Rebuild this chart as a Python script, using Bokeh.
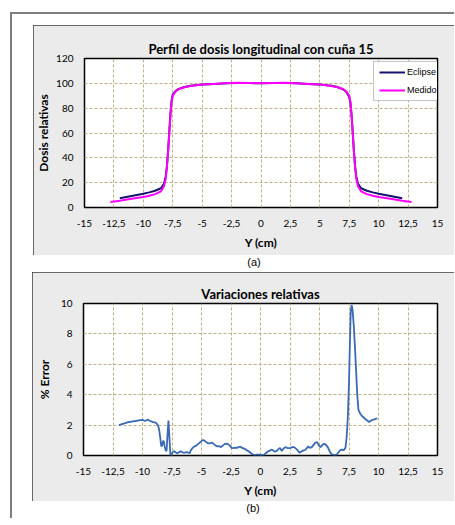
from bokeh.plotting import figure
from bokeh.models import Range1d, FixedTicker, Legend, LegendItem, Div
from bokeh.layouts import column
from bokeh.embed import file_html
from bokeh.resources import INLINE

# ---- axis ticks -----------------------------------------------------------
x_ticks = [-15, -12.5, -10, -7.5, -5, -2.5, 0, 2.5, 5, 7.5, 10, 12.5, 15]
x_tick_labels = ["-15", "-12,5", "-10", "-7,5", "-5", "-2,5", "0",
                 "2,5", "5", "7,5", "10", "12,5", "15"]
dose_ticks = [0, 20, 40, 60, 80, 100, 120]
err_ticks = [0, 2, 4, 6, 8, 10]

# ---- longitudinal dose profile, wedge 15 -----------------------------------
eclipse_x = [-12, -11, -10, -9.5, -9, -8.5, -8.25, -8.1, -8.0, -7.9, -7.8, -7.7,
             -7.6, -7.5, -7.25, -7, -6.5, -6, -5, -4, -3, -2, -1, 0, 1, 2, 3,
             4, 5, 6, 6.5, 7, 7.25, 7.5, 7.6, 7.7, 7.8, 7.9, 8.0, 8.1, 8.25,
             8.5, 9, 9.5, 10, 11, 12]
eclipse_y = [7.5, 9.3, 11, 12.2, 13.5, 15.5, 19, 25, 33, 45, 60, 75,
             86, 91, 94, 95.5, 97, 98, 99, 99.5, 100, 100.3, 100.2, 100, 100.2, 100.3, 100,
             99.5, 99, 98, 97, 95, 93, 89, 84, 74, 60, 45, 33, 25, 19,
             15.5, 13.5, 12.2, 11, 9.3, 7.5]

medido_x = [-12.8, -12, -11, -10, -9.5, -9, -8.5, -8.25, -8.1, -8.0, -7.9, -7.8,
            -7.7, -7.6, -7.5, -7.25, -7, -6.5, -6, -5, -4, -3, -2, -1, 0, 1, 2,
            3, 4, 5, 6, 6.5, 7, 7.25, 7.5, 7.6, 7.7, 7.8, 7.9, 8.0, 8.1, 8.25,
            8.5, 9, 9.5, 10, 11, 12, 12.8]
medido_y = [4.5, 5.5, 7, 8.5, 9.5, 10.8, 13, 17, 23, 32, 44, 59,
            74, 85, 90, 93.5, 95.2, 96.8, 97.8, 99, 99.5, 100, 100.4, 100.3, 100, 100.3, 100.4,
            100, 99.5, 99, 97.8, 96.8, 95.2, 93.5, 90, 85, 74, 59, 44, 32, 23, 17,
            13, 10.8, 9.5, 8.5, 7, 5.5, 4.5]

# ---- relative variation (% error) -----------------------------------------
err_x = [-12.0, -11.8, -11.6, -11.4, -11.2, -11.0, -10.8, -10.6, -10.4, -10.2, -10.0,
         -9.85, -9.7, -9.55, -9.4, -9.25, -9.1, -8.95, -8.8, -8.7, -8.6, -8.5, -8.42,
         -8.35, -8.27, -8.2, -8.12, -8.04, -7.96, -7.88, -7.8, -7.72, -7.64, -7.56,
         -7.45, -7.35, -7.2, -7.05, -6.9, -6.75, -6.6, -6.45, -6.3, -6.15, -6.0, -5.9,
         -5.75, -5.6, -5.45, -5.3, -5.15, -5.0, -4.85, -4.7, -4.55, -4.4, -4.25, -4.1,
         -3.95, -3.8, -3.65, -3.5, -3.35, -3.2, -3.05, -2.9, -2.75, -2.6, -2.45, -2.3,
         -2.15, -2.0, -1.85, -1.7, -1.55, -1.4, -1.25, -1.1, -0.95, -0.8, -0.65, -0.5,
         -0.35, -0.2, 0.0, 0.15, 0.3, 0.45, 0.6, 0.75, 0.9, 1.05, 1.2, 1.35, 1.5, 1.65,
         1.8, 1.95, 2.1, 2.25, 2.4, 2.55, 2.7, 2.85, 3.0, 3.15, 3.3, 3.45, 3.6, 3.75,
         3.9, 4.05, 4.2, 4.35, 4.5, 4.65, 4.8, 4.95, 5.1, 5.25, 5.4, 5.55, 5.7, 5.85,
         6.0, 6.15, 6.3, 6.45, 6.6, 6.75, 6.9, 7.05, 7.2, 7.3, 7.4, 7.5, 7.58, 7.65,
         7.72, 7.8, 7.9, 8.0, 8.1, 8.2, 8.3, 8.45, 8.6, 8.75, 8.9, 9.05, 9.2, 9.35,
         9.5, 9.65, 9.8, 9.9]
err_y = [2.0, 2.05, 2.1, 2.15, 2.2, 2.22, 2.25, 2.27, 2.3, 2.33, 2.35,
         2.28, 2.3, 2.36, 2.28, 2.25, 2.2, 2.18, 2.1, 2.0, 1.75, 1.2, 0.65,
         0.6, 0.95, 0.95, 0.6, 0.35, 0.3, 1.4, 2.3, 1.2, 0.1, 0.0,
         0.2, 0.3, 0.22, 0.15, 0.22, 0.28, 0.2, 0.18, 0.22, 0.2, 0.15, 0.35,
         0.5, 0.6, 0.65, 0.75, 0.85, 0.95, 1.02, 0.95, 0.85, 0.8, 0.82, 0.85,
         0.75, 0.65, 0.6, 0.62, 0.55, 0.65, 0.75, 0.78, 0.75, 0.65, 0.5, 0.48,
         0.52, 0.5, 0.55, 0.58, 0.5, 0.45, 0.4, 0.32, 0.25, 0.15, 0.08, 0.02,
         0.05, 0.06, 0.05, 0.03, 0.05, 0.15, 0.25, 0.3, 0.38, 0.35, 0.25, 0.28, 0.4, 0.5,
         0.3, 0.45, 0.55, 0.5, 0.48, 0.5, 0.55, 0.55, 0.45, 0.35, 0.18, 0.25, 0.32, 0.35,
         0.45, 0.6, 0.5, 0.55, 0.7, 0.85, 0.88, 0.65, 0.55, 0.7, 0.78, 0.7, 0.55, 0.3,
         0.1, 0.05, 0.03, 0.05, 0.2, 0.35, 0.38, 0.35, 0.5, 1.2, 2.5, 4.8, 7.5, 9.5,
         9.9, 9.6, 8.6, 7.2, 5.6, 4.0, 3.0, 2.75, 2.6, 2.5, 2.38, 2.3, 2.2, 2.28,
         2.35, 2.38, 2.42, 2.42]

TEXT_FONT = "Lato"
GRID_COLOR = "#bfb087"
BOX_FILL = "#ebebeb"


def make_chart(title, y_label, y_ticks, y_max, width, height, borders, title_offset,
               y_label_standoff):
    left, right, top, bottom = borders
    p = figure(width=width, height=height, output_backend="svg", toolbar_location=None,
               x_range=Range1d(-15, 15), y_range=Range1d(0, y_max),
               min_border_left=left, min_border_right=right,
               min_border_top=top, min_border_bottom=bottom,
               background_fill_color="white", border_fill_color=BOX_FILL)
    p.styles = {"outline": "2px solid #3c3c3c", "outline-offset": "-2px"}

    p.title.text = title
    p.title.align = "center"
    p.title.offset = title_offset
    p.title.text_font = TEXT_FONT
    p.title.text_font_style = "bold"
    p.title.text_font_size = "13px"
    p.title.text_color = "black"
    p.title.standoff = 4

    p.outline_line_color = "black"
    p.outline_line_width = 1.5

    p.xaxis.ticker = FixedTicker(ticks=x_ticks)
    p.xaxis.major_label_overrides = dict(zip(x_ticks, x_tick_labels))
    p.xaxis.axis_label = "Y (cm)"
    p.xaxis.major_label_standoff = 12
    p.xaxis.axis_label_standoff = 5

    p.yaxis.ticker = FixedTicker(ticks=y_ticks)
    p.yaxis.axis_label = y_label
    p.yaxis.major_label_standoff = 11
    p.yaxis.axis_label_standoff = y_label_standoff

    for ax in (p.xaxis[0], p.yaxis[0]):
        ax.axis_line_color = None
        ax.major_tick_line_color = None
        ax.minor_tick_line_color = None
        ax.major_tick_in = 0
        ax.major_tick_out = 0
        ax.major_label_text_font = TEXT_FONT
        ax.major_label_text_font_size = "10px"
        ax.major_label_text_color = "black"
        ax.axis_label_text_font = TEXT_FONT
        ax.axis_label_text_font_style = "bold"
        ax.axis_label_text_font_size = "12px"
        ax.axis_label_text_color = "black"

    for g in (p.xgrid[0], p.ygrid[0]):
        g.grid_line_color = GRID_COLOR
        g.grid_line_dash = "3 2"
        g.grid_line_width = 1
    return p


# ---- (a) dose profile ------------------------------------------------------
p1 = make_chart("Perfil de dosis longitudinal con cuña 15", "Dosis relativas",
                dose_ticks, 120, 421, 230, (47, 15, 33, 48), -16, 2)
r_ecl = p1.line(eclipse_x, eclipse_y, line_color="#14146e", line_width=2)
r_med = p1.line(medido_x, medido_y, line_color="#ff00ff", line_width=2)
legend = Legend(items=[LegendItem(label="Eclipse", renderers=[r_ecl]),
                       LegendItem(label="Medido", renderers=[r_med])],
                location=(289, 106), orientation="vertical",
                padding=5, spacing=8, margin=0, glyph_width=26, glyph_height=10,
                label_height=10, label_standoff=2,
                label_text_font="Liberation Sans", label_text_font_size="9px",
                label_text_color="black",
                border_line_color="#8c8c8c", border_line_width=1,
                background_fill_color="white", background_fill_alpha=1)
p1.add_layout(legend)

# ---- (b) relative variation -----------------------------------------------
p2 = make_chart("Variaciones relativas", "% Error", err_ticks, 10, 422, 229,
                (45, 17, 31, 46), -14, 6)
p2.line(err_x, err_y, line_color="#3a6ab4", line_width=1.8)

cap_style = {"font-family": "Liberation Sans", "font-size": "11px", "color": "black",
             "text-align": "center", "width": "100%", "line-height": "15px"}
cap_a = Div(text="(a)", width=421, height=17, margin=(0, 0, 0, 21), styles=cap_style)
cap_b = Div(text="(b)", width=422, height=17, margin=(0, 0, 0, 20), styles=cap_style)

p1.margin = (11, 0, 0, 21)
p2.margin = (0, 0, 0, 20)

page = column(p1, cap_a, p2, cap_b, margin=(12, 0, 0, 10),
              styles={"border-left": "2px solid #7f7f7f", "border-top": "2px solid #7f7f7f",
                      "background-color": "white"})

open("out.html", "w").write(file_html(page, INLINE))
